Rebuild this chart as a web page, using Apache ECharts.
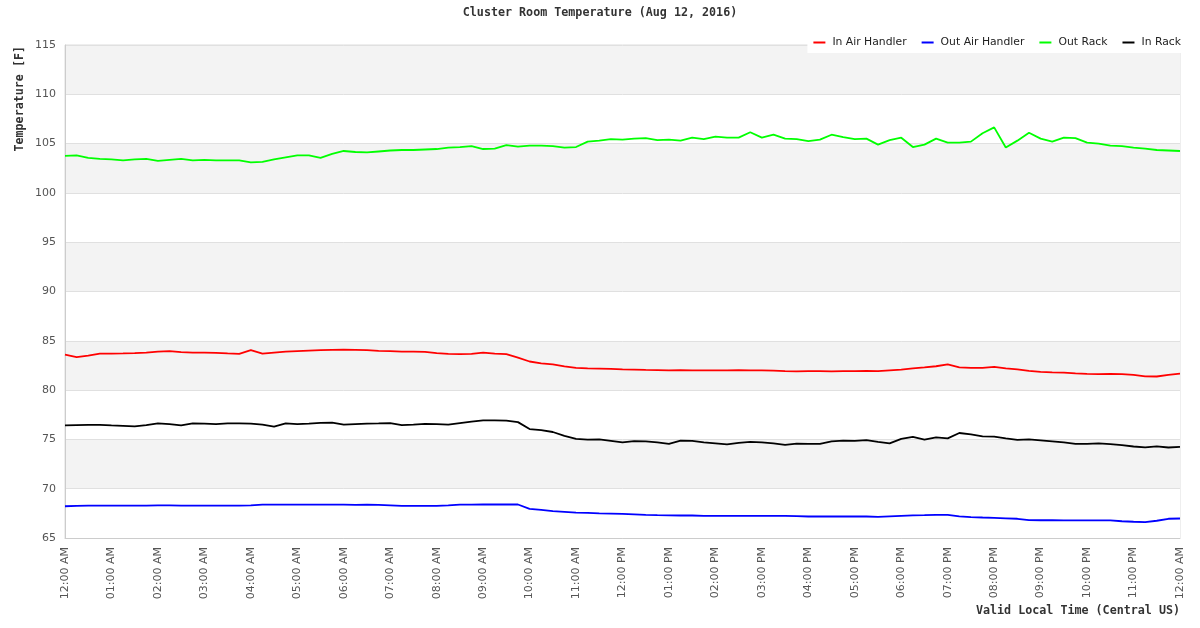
<!DOCTYPE html>
<html>
<head>
<meta charset="utf-8">
<script src="https://cdn.jsdelivr.net/npm/echarts@6/dist/echarts.min.js"></script>
<style>
html,body{margin:0;padding:0;background:#fff;}
#chart{width:1200px;height:628px;}
</style>
</head>
<body>
<div id="chart"></div>
<script>
// Sampling: one reading every 15 minutes, from 12:00 AM to 12:00 AM next day
const stepHours = 0.25;
const hourLabels = ["12:00 AM","01:00 AM","02:00 AM","03:00 AM","04:00 AM","05:00 AM","06:00 AM","07:00 AM","08:00 AM","09:00 AM","10:00 AM","11:00 AM",
  "12:00 PM","01:00 PM","02:00 PM","03:00 PM","04:00 PM","05:00 PM","06:00 PM","07:00 PM","08:00 PM","09:00 PM","10:00 PM","11:00 PM","12:00 AM"];
const seriesNames = ["In Air Handler","Out Air Handler","Out Rack","In Rack"];
const seriesColors = ["#ff0000","#0000ff","#00ff00","#000000"];

const inAirHandler = [
 83.6,83.35,83.5,83.7, 83.7,83.72,83.75,83.8, 83.9,83.95,83.85,83.8, 83.8,83.78,83.72,83.68,
 84.05,83.7,83.8,83.9, 83.95,84.0,84.05,84.08, 84.1,84.08,84.05,83.98, 83.95,83.9,83.9,83.88,
 83.75,83.68,83.65,83.68, 83.8,83.7,83.65,83.3, 82.9,82.72,82.6,82.4, 82.25,82.2,82.18,82.15,
 82.1,82.08,82.05,82.03, 82.0,82.02,82.0,82.0, 82.0,82.0,82.02,82.0, 82.0,81.98,81.93,81.9,
 81.92,81.92,81.9,81.92, 81.92,81.95,81.92,82.0, 82.08,82.2,82.3,82.42, 82.6,82.3,82.25,82.25,
 82.35,82.2,82.1,81.95, 81.85,81.8,81.78,81.7, 81.65,81.63,81.65,81.62, 81.55,81.4,81.38,81.55,
 81.68];
const outAirHandler = [
 68.22,68.25,68.28,68.28, 68.28,68.28,68.28,68.28, 68.3,68.3,68.28,68.28, 68.28,68.28,68.28,68.28,
 68.3,68.38,68.38,68.38, 68.38,68.38,68.38,68.38, 68.38,68.35,68.38,68.35, 68.3,68.25,68.25,68.25,
 68.25,68.3,68.38,68.38, 68.4,68.4,68.4,68.4, 67.95,67.85,67.72,67.65, 67.58,67.55,67.5,67.48,
 67.45,67.4,67.35,67.32, 67.3,67.28,67.28,67.25, 67.25,67.25,67.25,67.25, 67.25,67.25,67.25,67.22,
 67.18,67.18,67.18,67.18, 67.18,67.18,67.15,67.2, 67.25,67.3,67.32,67.35, 67.35,67.2,67.12,67.08,
 67.05,67.0,66.95,66.82, 66.8,66.8,66.78,66.78, 66.78,66.78,66.78,66.7, 66.65,66.62,66.75,66.95,
 66.98];
const outRack = [
 103.75,103.8,103.55,103.45, 103.4,103.3,103.4,103.45, 103.25,103.35,103.45,103.3, 103.35,103.3,103.3,103.3,
 103.1,103.15,103.4,103.6, 103.8,103.8,103.55,103.95, 104.25,104.15,104.1,104.2, 104.3,104.35,104.35,104.4,
 104.45,104.6,104.65,104.75, 104.45,104.5,104.85,104.7, 104.8,104.8,104.75,104.6, 104.65,105.2,105.3,105.45,
 105.4,105.5,105.55,105.35, 105.4,105.3,105.6,105.45, 105.7,105.6,105.6,106.15, 105.6,105.9,105.5,105.45,
 105.25,105.4,105.9,105.65, 105.45,105.5,104.9,105.35, 105.6,104.65,104.9,105.5, 105.1,105.1,105.2,106.05,
 106.65,104.6,105.3,106.1, 105.5,105.2,105.6,105.55, 105.1,105.0,104.8,104.75, 104.6,104.5,104.35,104.3,
 104.25];
const inRack = [
 76.42,76.45,76.48,76.48, 76.42,76.38,76.32,76.45, 76.62,76.55,76.42,76.62, 76.6,76.55,76.62,76.62,
 76.6,76.5,76.3,76.62, 76.55,76.6,76.68,76.7, 76.5,76.55,76.6,76.62, 76.65,76.45,76.5,76.58,
 76.55,76.5,76.65,76.8, 76.92,76.92,76.9,76.75, 76.05,75.95,75.75,75.35, 75.05,74.98,75.0,74.85,
 74.7,74.82,74.8,74.69, 74.55,74.88,74.85,74.7, 74.6,74.5,74.65,74.75, 74.7,74.6,74.45,74.58,
 74.55,74.55,74.8,74.88, 74.85,74.92,74.75,74.6, 75.05,75.25,74.98,75.2, 75.1,75.65,75.5,75.3,
 75.28,75.1,74.95,75.0, 74.9,74.8,74.7,74.55, 74.55,74.6,74.52,74.42, 74.28,74.2,74.3,74.18,
 74.25];
const yMin = 65, yMax = 115, yStep = 5;

const allValues = [inAirHandler, outAirHandler, outRack, inRack];
const toPairs = arr => arr.map((v, i) => [i * stepHours, v]);

const chart = echarts.init(document.getElementById('chart'), null, {renderer: 'canvas'});
const monoBold = {fontFamily: 'DejaVu Sans Mono', fontWeight: 'bold', fontSize: 11.7, color: '#333'};

chart.setOption({
  animation: false,
  backgroundColor: '#ffffff',
  title: {
    text: 'Cluster Room Temperature (Aug 12, 2016)',
    left: 'center', top: 2,
    textStyle: monoBold
  },
  legend: {
    right: 17, top: 33,
    backgroundColor: '#ffffff',
    padding: [4, 2, 5, 6],
    itemGap: 15,
    itemWidth: 12, itemHeight: 2,
    icon: 'rect',
    textStyle: {fontFamily: 'DejaVu Sans', fontSize: 10.8, color: '#222', padding: [0, 0, 0, 2]},
    data: seriesNames
  },
  grid: {
    left: 65, right: 20, top: 45, bottom: 90,
    show: true, borderColor: '#dddddd', borderWidth: 1, backgroundColor: 'transparent'
  },
  xAxis: {
    type: 'value', min: 0, max: hourLabels.length - 1, interval: 1,
    axisLine: {show: true, lineStyle: {color: '#cccccc'}},
    axisTick: {show: false},
    splitLine: {show: false},
    axisLabel: {
      rotate: 90, margin: 9,
      fontFamily: 'DejaVu Sans', fontSize: 11, color: '#555',
      formatter: v => hourLabels[Math.round(v)] || ''
    }
  },
  yAxis: {
    type: 'value', min: yMin, max: yMax, interval: yStep,
    axisLine: {show: true, lineStyle: {color: '#cccccc'}},
    axisTick: {show: false},
    splitLine: {show: true, lineStyle: {color: '#e0e0e0', width: 1}},
    splitArea: {show: true, areaStyle: {color: ['#ffffff', '#f3f3f3']}},
    axisLabel: {margin: 9, fontFamily: 'DejaVu Sans', fontSize: 11, color: '#555'}
  },
  graphic: [
    {type: 'text', rotation: Math.PI / 2, x: 20, y: 46,
     style: {text: 'Temperature [F]', font: 'bold 11.7px "DejaVu Sans Mono"', fill: '#333', textAlign: 'right', textVerticalAlign: 'middle'}},
    {type: 'text', right: 20, top: 605,
     style: {text: 'Valid Local Time (Central US)', font: 'bold 11.7px "DejaVu Sans Mono"', fill: '#333'}}
  ],
  series: seriesNames.map((name, k) => ({
    name, type: 'line', data: toPairs(allValues[k]),
    showSymbol: false, symbol: 'none',
    lineStyle: {color: seriesColors[k], width: 1.8},
    itemStyle: {color: seriesColors[k]},
    z: 3 + k
  }))
});
</script>
</body>
</html>
